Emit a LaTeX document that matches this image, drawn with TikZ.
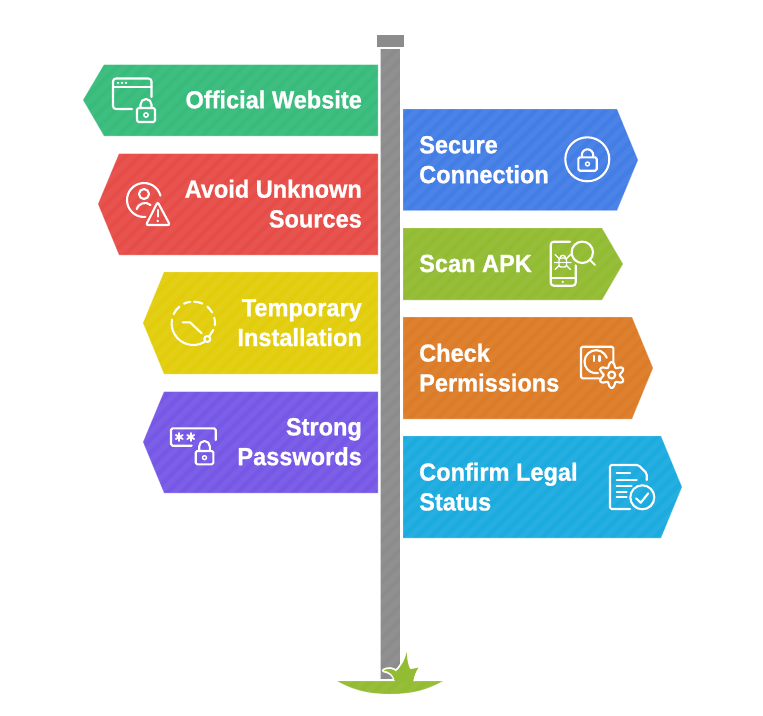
\documentclass[tikz,border=0pt]{standalone}
\usepackage{fontspec}
\setmainfont[BoldFeatures={FakeStretch=0.95,FakeBold=0.9}]{Liberation Sans}
\definecolor{cgreen}{HTML}{38BC7C}
\definecolor{cred}{HTML}{E64D48}
\definecolor{cyellow}{HTML}{E2CD0C}
\definecolor{cpurple}{HTML}{7758E6}
\definecolor{cblue}{HTML}{437EE6}
\definecolor{clime}{HTML}{92BC32}
\definecolor{corange}{HTML}{DC7C28}
\definecolor{ccyan}{HTML}{1CABDE}
\definecolor{cpole}{HTML}{8C8C8C}
\tikzset{
  x=1pt,y=-1pt,
  stripe/.style={white,opacity=0.045,line width=5pt},
  boardedge/.style={white,opacity=0.25,line width=0.8pt},
  icon/.style={draw=white,line width=2.1pt,line cap=round,line join=round,fill=none},
  thinicon/.style={icon,line width=1.4pt},
  dotfill/.style={fill=white,draw=none},
  lefttext/.style={anchor=east,align=right,text=white,inner sep=0pt,font=\fontsize{24.8}{29.8}\selectfont\bfseries},
  righttext/.style={anchor=west,align=left,text=white,inner sep=0pt,font=\fontsize{24.8}{29.8}\selectfont\bfseries},
}
\newcommand{\signboard}[2]{%
  \begin{scope}
    \clip #2;
    \fill[#1] (0,0) rectangle (763,715);
    \foreach \s in {-720,-706,...,780} \draw[stripe] (\s,715) -- ({\s+715},0);
  \end{scope}
  \draw[boardedge] #2;
}
\newcommand{\padlock}[6]{% left right top bottom shackletop keyradius
  \draw[icon,rounded corners=1.5pt] (#1,#3) rectangle (#2,#4);
  \draw[icon] ({#1+3.5},#3) -- ({#1+3.5},{#5+(#2-#1)/2-3.5}) arc[start angle=180,end angle=360,radius={(#2-#1)/2-3.5}] -- ({#2-3.5},#3);
  \draw[thinicon] ({(#1+#2)/2},{(#3+#4)/2}) circle[radius=#6];
}
\begin{document}
\begin{tikzpicture}
\useasboundingbox (0,0) rectangle (763,715);
\fill[white] (0,0) rectangle (763,715);

% pole
\begin{scope}
  \clip (380.5,49) rectangle (400,679);
  \fill[cpole] (380,49) rectangle (400,679);
  \foreach \s in {-360,-346,...,420} \draw[stripe] (\s,715) -- ({\s+715},0);
\end{scope}
\fill[cpole] (377,35) rectangle (404,47);

% grass
\signboard{clime}{(337,681) -- (443,681) .. controls (425,691) and (410,694) .. (390,694) .. controls (370,694) and (355,691) .. (337,681) -- cycle}
\draw[white,line width=3.5pt,line join=round] (395,680) .. controls (394,675) and (390,671.5) .. (383.5,670.5) .. controls (388,668) and (393,668.5) .. (396,671.5) .. controls (401,667) and (405,660) .. (406.7,652) .. controls (407,659) and (408,665) .. (410,669) .. controls (412,669) and (415,668.5) .. (418.5,667.5) .. controls (416,671) and (414,676) .. (413,681);
\fill[clime] (395,682) .. controls (394,675) and (390,671.5) .. (383.5,670.5) .. controls (388,668) and (393,668.5) .. (396,671.5) .. controls (401,667) and (405,660) .. (406.7,652) .. controls (407,659) and (408,665) .. (410,669) .. controls (412,669) and (415,668.5) .. (418.5,667.5) .. controls (416,671) and (414,676) .. (413,682) -- cycle;

% boards
\signboard{cgreen}{(378,64.5) -- (104,64.5) -- (83,100) -- (104,136) -- (378,136) -- cycle}
\signboard{cred}{(378,153.5) -- (119,153.5) -- (98,204) -- (119,255) -- (378,255) -- cycle}
\signboard{cyellow}{(378,272) -- (164,272) -- (143,323) -- (164,374) -- (378,374) -- cycle}
\signboard{cpurple}{(378,391.5) -- (164,391.5) -- (143,442) -- (164,493) -- (378,493) -- cycle}
\signboard{cblue}{(403,109) -- (617,109) -- (638,160) -- (617,210.5) -- (403,210.5) -- cycle}
\signboard{clime}{(403,228) -- (602,228) -- (623,264) -- (602,300) -- (403,300) -- cycle}
\signboard{corange}{(403,317) -- (632,317) -- (653,368) -- (632,419) -- (403,419) -- cycle}
\signboard{ccyan}{(403,436) -- (661,436) -- (682,487) -- (661,538) -- (403,538) -- cycle}

% labels
\node[lefttext] (official) at (362,99.5) {Official Website};
\node[lefttext] (avoid) at (362,203.7) {Avoid Unknown\\Sources};
\node[lefttext] (temporary) at (362,322.7) {Temporary\\Installation};
\node[lefttext] (strong) at (362,441.7) {Strong\\Passwords};
\node[righttext] (secure) at (419,159.7) {Secure\\Connection};
\node[righttext] (scan) at (419,263.5) {Scan APK};
\node[righttext] (check) at (419,367.7) {Check\\Permissions};
\node[righttext] (confirm) at (419,486.7) {Confirm Legal\\Status};

% icon: website + lock
\draw[icon,rounded corners=3pt] (132,109) -- (113,109) -- (113,78.5) -- (151.5,78.5) -- (151.5,97);
\draw[icon] (113,87) -- (151.5,87);
\foreach \x in {118,122,126} \fill[dotfill] (\x,82.8) circle[radius=1.3];
\padlock{137}{155}{108}{122}{99}{2.2}

% icon: user + warning
\draw[icon] (144,200) ++(-15:17) arc[start angle=-15,end angle=-275,radius=17];
\draw[icon] (144,194) circle[radius=5];
\draw[icon] (136.7,209) .. controls (137.5,204) and (146,200.5) .. (150.5,205);
\draw[icon,rounded corners=2pt] (157.7,202) -- (170,225) -- (146,225) -- cycle;
\draw[icon] (157.7,210) -- (157.7,216.5);
\fill[dotfill] (157.7,221) circle[radius=1.4];

% icon: dashed clock
\draw[icon] (193.3,323.3) ++(60:21.7) arc[start angle=60,end angle=190,radius=21.7];
\foreach \a/\b in {205/230,245/262,272/295,310/330,345/365}
  \draw[icon] (193.3,323.3) ++(\a:21.7) arc[start angle=\a,end angle=\b,radius=21.7];
\draw[icon] (182.7,322.3) -- (190,322.3) -- (201.7,333.3);
\draw[icon] (207.3,339) circle[radius=3];
\draw[icon] (209,336.5) -- (213.3,330);

% icon: password + lock
\draw[icon,rounded corners=1.5pt] (191.7,445.7) -- (171,445.7) -- (171,428.3) -- (215.7,428.3) -- (215.7,440);
\foreach \c in {179.3,190.7} \foreach \a in {90,30,150}
  \draw[icon,line width=1.8pt] (\c,437) ++(\a:4) -- ++({\a+180}:8);
\padlock{195.7}{213.3}{451}{464.3}{441}{2}

% icon: lock in circle
\draw[icon] (587.3,159.3) circle[radius=22];
\padlock{578.3}{596.7}{157.3}{170.7}{149.3}{2}

% icon: phone + bug + lens
\draw[icon,rounded corners=3pt] (570,241.7) -- (550.7,241.7) -- (550.7,285.7) -- (575.7,285.7) -- (575.7,265.3);
\draw[icon] (550.7,278.3) -- (575.7,278.3);
\fill[dotfill] (562.7,281.9) circle[radius=1.3];
\draw[icon] (582.3,252.3) circle[radius=10.7];
\draw[icon] (590,260) -- (595,265);
\draw[thinicon,rounded corners=2pt] (559,258) rectangle (566.5,267);
\draw[thinicon] (559,262.5) -- (566.5,262.5);
\draw[thinicon] (560,258) .. controls (560,254.5) and (565.5,254.5) .. (565.5,258);
\draw[thinicon] (555,254.5) -- (559,258.5) (570.5,254.5) -- (566.5,258.5)
  (554.5,262.5) -- (559,262.5) (571,262.5) -- (566.5,262.5)
  (555,269.5) -- (559,265.5) (570.5,269.5) -- (566.5,265.5);

% icon: socket + gear
\draw[icon,rounded corners=1.5pt] (599,378.3) -- (581,378.3) -- (581,346.7) -- (613.3,346.7) -- (613.3,363);
\draw[icon] (596,361.7) ++(-20:11.5) arc[start angle=-20,end angle=-280,radius=11.5];
\draw[icon] (594,356) -- (594,361) (599.5,356) -- (599.5,361);
\draw[icon] plot[domain=0:360,samples=73,smooth] ({611.7+(10.5+2.5*cos(6*\x))*cos(\x+30)},{375+(10.5+2.5*cos(6*\x))*sin(\x+30)});
\draw[icon] (611.7,375) circle[radius=3.5];

% icon: document + check
\draw[icon,rounded corners=1.5pt] (630,509) -- (610,509) -- (610,465) -- (638.3,465) -- (646.7,473.3) -- (646.7,480);
\draw[icon] (616.7,473.3) -- (630,473.3) (616.7,480) -- (636.7,480) (616.7,485.7) -- (631.7,485.7) (616.7,491.7) -- (626.7,491.7) (616.7,497.3) -- (626.7,497.3);
\draw[icon] (642.3,497.3) circle[radius=12];
\draw[icon] (636,498.3) -- (640.7,502.7) -- (648.3,493.3);
\end{tikzpicture}
\end{document}
